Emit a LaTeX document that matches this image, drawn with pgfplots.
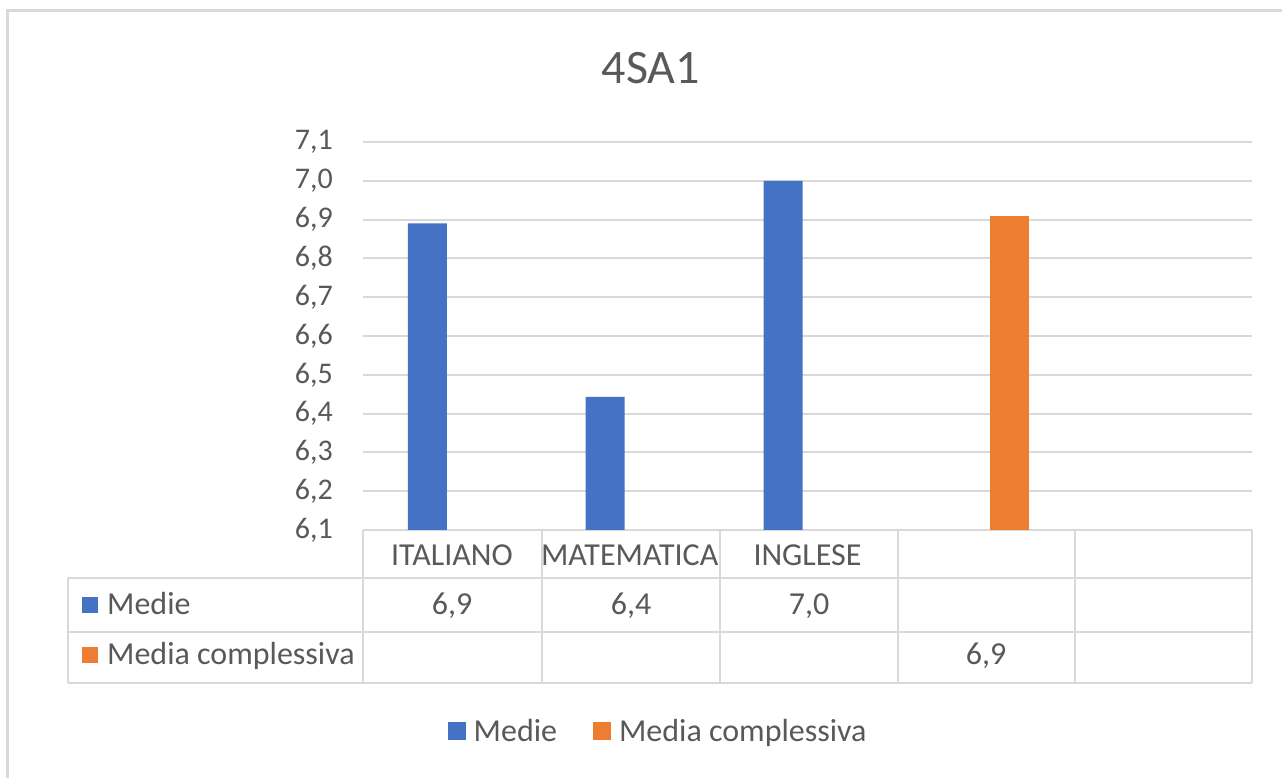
\documentclass[border=0pt]{standalone}
\usepackage{pgfplots}
\pgfplotsset{compat=1.18}
\usepackage{fontspec}
\setmainfont{Carlito}
\definecolor{cblue}{HTML}{4472C4}
\definecolor{corange}{HTML}{ED7D31}
\definecolor{tgray}{HTML}{595959}
\definecolor{lgray}{HTML}{D9D9D9}
\newcommand\fs{\fontsize{30}{36}\selectfont}
\newcommand\ft{\fontsize{32}{38}\selectfont}
\begin{document}
\begin{tikzpicture}[x=1pt,y=1pt]
\path[use as bounding box] (0,0) rectangle (1282,778);
\fill[white] (0,0) rectangle (1282,778);
\begin{axis}[
  at={(363pt,248pt)}, anchor=south west,
  width=889pt, height=388pt, scale only axis,
  xmin=-0.5, xmax=4.5, ymin=6.1, ymax=7.1,
  ybar=10pt, bar width=39pt,
  axis line style={draw=none},
  major tick length=0pt,
  ytick={6.1,6.2,...,7.15},
  ymajorgrids, grid style={lgray, line width=2pt},
  yticklabel style={anchor=east, inner sep=0pt, xshift=-30pt, font=\fs, text=tgray,
    /pgf/number format/.cd, fixed, fixed zerofill, precision=1, use comma, assume math mode=true},
  xtick={0,1,2,3,4},
  xticklabels={ITALIANO,MATEMATICA,INGLESE,{},{}},
  xticklabel style={anchor=base, inner sep=0pt, yshift=-36pt, font=\ft, text=tgray},
  legend columns=2,
  legend style={at={(0.332,-0.518)}, anchor=center, draw=none, fill=none, font=\ft, text=tgray,
    /tikz/every odd column/.append style={column sep=6pt},
    /tikz/every even column/.append style={column sep=34pt}},
  clip=false,
]
\addplot[fill=cblue, draw=none, legend image code/.code={\fill[cblue] (0pt,-9pt) rectangle (18pt,9pt);}]
  coordinates {(0,6.89) (1,6.443) (2,7.0)};
\addlegendentry{Medie}
\addplot[fill=corange, draw=none, legend image code/.code={\fill[corange] (0pt,-9pt) rectangle (18pt,9pt);}]
  coordinates {(3,6.909)};
\addlegendentry{Media complessiva}
\end{axis}
\begin{scope}[yshift=778pt, y=-1pt]
\draw[lgray, line width=3pt] (7.5,778) -- (7.5,10.5) -- (1282,10.5);
\node[anchor=base, inner sep=0pt, text=tgray, font=\fontsize{48}{56}\selectfont] at (651,84) {4SA1};
% data table
\begin{scope}[lgray, line width=2pt]
\draw (68,578) -- (1252,578);
\draw (68,632) -- (1252,632);
\draw (68,683) -- (1252,683);
\draw (68,578) -- (68,683);
\foreach \x in {363,542,720,898,1075,1252} \draw (\x,530) -- (\x,683);
\end{scope}
\fill[cblue] (82,597) rectangle (98,613);
\fill[corange] (82,647) rectangle (98,663);
\begin{scope}[every node/.style={inner sep=0pt, text=tgray, font=\ft}]
\node[anchor=base west] at (107,615) {Medie};
\node[anchor=base west] at (107,665) {Media complessiva};
\node[anchor=base] at (452,615) {6,9};
\node[anchor=base] at (631,615) {6,4};
\node[anchor=base] at (809,615) {7,0};
\node[anchor=base] at (986,665) {6,9};
\end{scope}
\end{scope}
\end{tikzpicture}
\end{document}
